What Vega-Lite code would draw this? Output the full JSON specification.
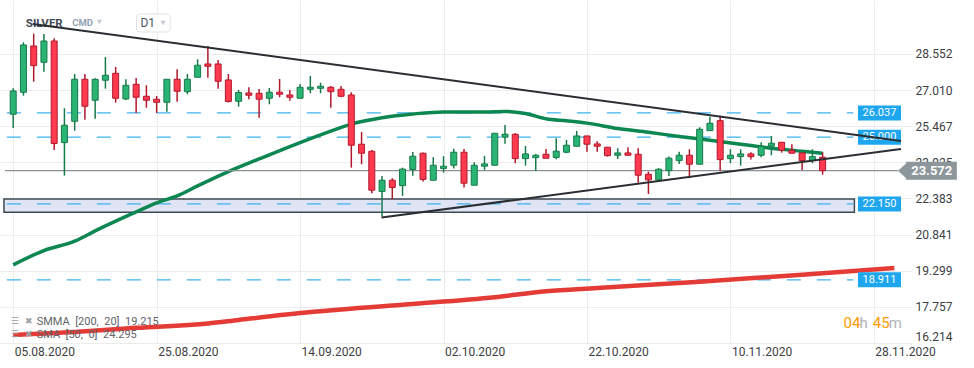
{
 "$schema": "https://vega.github.io/schema/vega-lite/v6.json",
 "width": 906, "height": 343,
 "autosize": {"type": "none"},
 "padding": {"left": 0, "top": 0, "right": 68, "bottom": 25},
 "background": "#ffffff",
 "config": {"view": {"stroke": null}, "font": "Roboto", "text": {"font": "Roboto"}},
 "datasets": {
  "candles": [
   {"i":0,"o":25.979,"h":27.088,"l":25.394,"c":26.973},
   {"i":1,"o":26.918,"h":29.051,"l":26.773,"c":28.936},
   {"i":2,"o":28.893,"h":29.418,"l":27.370,"c":28.053},
   {"i":3,"o":28.198,"h":29.405,"l":27.797,"c":29.107},
   {"i":4,"o":29.107,"h":29.222,"l":24.456,"c":24.733},
   {"i":5,"o":24.767,"h":26.235,"l":23.359,"c":25.510},
   {"i":6,"o":25.680,"h":27.698,"l":25.279,"c":27.472},
   {"i":7,"o":27.472,"h":27.698,"l":25.748,"c":26.320},
   {"i":8,"o":26.576,"h":27.515,"l":25.791,"c":27.472},
   {"i":9,"o":27.430,"h":28.424,"l":27.071,"c":27.643},
   {"i":10,"o":27.728,"h":27.997,"l":26.474,"c":26.662},
   {"i":11,"o":26.632,"h":27.472,"l":26.589,"c":27.216},
   {"i":12,"o":27.259,"h":27.528,"l":26.034,"c":26.704},
   {"i":13,"o":26.747,"h":27.216,"l":26.260,"c":26.576},
   {"i":14,"o":26.619,"h":26.760,"l":26.034,"c":26.491},
   {"i":15,"o":26.491,"h":27.472,"l":26.090,"c":27.472},
   {"i":16,"o":27.472,"h":27.899,"l":26.517,"c":26.960},
   {"i":17,"o":26.943,"h":27.698,"l":26.832,"c":27.472},
   {"i":18,"o":27.558,"h":28.326,"l":27.558,"c":28.070},
   {"i":19,"o":28.125,"h":28.893,"l":27.541,"c":28.027},
   {"i":20,"o":28.125,"h":28.296,"l":27.071,"c":27.387},
   {"i":21,"o":27.443,"h":27.698,"l":26.482,"c":26.525},
   {"i":22,"o":26.534,"h":27.016,"l":26.303,"c":26.909},
   {"i":23,"o":26.888,"h":27.131,"l":26.619,"c":26.790},
   {"i":24,"o":26.875,"h":27.058,"l":25.834,"c":26.619},
   {"i":25,"o":26.662,"h":27.101,"l":26.406,"c":26.918},
   {"i":26,"o":26.918,"h":27.485,"l":26.704,"c":26.832},
   {"i":27,"o":26.802,"h":27.016,"l":26.559,"c":26.704},
   {"i":28,"o":26.662,"h":27.272,"l":26.662,"c":27.131},
   {"i":29,"o":27.046,"h":27.613,"l":26.875,"c":27.131},
   {"i":30,"o":27.088,"h":27.327,"l":26.875,"c":27.174},
   {"i":31,"o":27.131,"h":27.186,"l":26.260,"c":26.943},
   {"i":32,"o":27.046,"h":27.186,"l":26.704,"c":26.747},
   {"i":33,"o":26.802,"h":26.918,"l":23.700,"c":24.656},
   {"i":34,"o":24.699,"h":25.224,"l":23.845,"c":24.315},
   {"i":35,"o":24.400,"h":24.456,"l":22.608,"c":22.736},
   {"i":36,"o":22.685,"h":23.346,"l":21.618,"c":23.163},
   {"i":37,"o":23.163,"h":23.248,"l":22.365,"c":22.855},
   {"i":38,"o":22.932,"h":23.700,"l":22.493,"c":23.636},
   {"i":39,"o":23.623,"h":24.370,"l":23.355,"c":24.187},
   {"i":40,"o":24.315,"h":24.349,"l":23.103,"c":23.197},
   {"i":41,"o":23.163,"h":24.148,"l":23.163,"c":23.803},
   {"i":42,"o":23.666,"h":24.187,"l":23.495,"c":23.760},
   {"i":43,"o":23.803,"h":24.511,"l":23.658,"c":24.357},
   {"i":44,"o":24.357,"h":24.498,"l":22.847,"c":23.035},
   {"i":45,"o":22.949,"h":23.931,"l":22.949,"c":23.803},
   {"i":46,"o":23.760,"h":24.200,"l":23.602,"c":23.858},
   {"i":47,"o":23.803,"h":25.168,"l":23.803,"c":25.168},
   {"i":48,"o":25.000,"h":25.522,"l":24.724,"c":25.125},
   {"i":49,"o":25.125,"h":25.168,"l":23.888,"c":24.084},
   {"i":50,"o":24.084,"h":24.626,"l":23.786,"c":24.285},
   {"i":51,"o":24.127,"h":24.285,"l":23.560,"c":24.229},
   {"i":52,"o":24.272,"h":24.498,"l":24.101,"c":24.101},
   {"i":53,"o":24.136,"h":24.955,"l":24.063,"c":24.404},
   {"i":54,"o":24.357,"h":24.882,"l":24.315,"c":24.656},
   {"i":55,"o":24.613,"h":25.266,"l":24.613,"c":25.053},
   {"i":56,"o":25.053,"h":25.053,"l":24.383,"c":24.699},
   {"i":57,"o":24.711,"h":24.827,"l":24.383,"c":24.613},
   {"i":58,"o":24.571,"h":24.571,"l":24.170,"c":24.212},
   {"i":59,"o":24.229,"h":24.528,"l":24.071,"c":24.328},
   {"i":60,"o":24.328,"h":24.571,"l":24.229,"c":24.229},
   {"i":61,"o":24.272,"h":24.528,"l":23.060,"c":23.376},
   {"i":62,"o":23.419,"h":23.530,"l":22.578,"c":23.175},
   {"i":63,"o":23.175,"h":23.675,"l":23.120,"c":23.632},
   {"i":64,"o":23.572,"h":24.170,"l":23.346,"c":24.101},
   {"i":65,"o":24.000,"h":24.383,"l":23.858,"c":24.229},
   {"i":66,"o":24.229,"h":24.485,"l":23.248,"c":23.845},
   {"i":67,"o":23.845,"h":25.424,"l":23.845,"c":25.339},
   {"i":68,"o":25.279,"h":25.876,"l":25.279,"c":25.595},
   {"i":69,"o":25.706,"h":25.919,"l":23.572,"c":24.042},
   {"i":70,"o":24.084,"h":24.485,"l":23.888,"c":24.229},
   {"i":71,"o":24.170,"h":24.485,"l":23.786,"c":24.285},
   {"i":72,"o":24.285,"h":24.357,"l":24.042,"c":24.170},
   {"i":73,"o":24.229,"h":24.784,"l":24.144,"c":24.613},
   {"i":74,"o":24.613,"h":25.053,"l":24.229,"c":24.741},
   {"i":75,"o":24.784,"h":24.784,"l":24.340,"c":24.443},
   {"i":76,"o":24.443,"h":24.699,"l":24.315,"c":24.315},
   {"i":77,"o":24.328,"h":24.328,"l":23.602,"c":24.000},
   {"i":78,"o":24.000,"h":24.485,"l":23.888,"c":24.170},
   {"i":79,"o":24.144,"h":24.357,"l":23.402,"c":23.572}
  ],
  "sma": [
   {"i":0,"v":19.55},{"i":3,"v":20.16},{"i":6,"v":20.56},{"i":8,"v":21.0},{"i":12,"v":21.81},
   {"i":14,"v":22.2},{"i":16,"v":22.49},{"i":18,"v":22.92},{"i":21,"v":23.53},{"i":24,"v":24.07},
   {"i":28,"v":24.77},{"i":31,"v":25.26},{"i":33,"v":25.56},{"i":36,"v":25.83},{"i":39,"v":25.99},
   {"i":42,"v":26.08},{"i":46,"v":26.08},{"i":48,"v":26.1},{"i":50,"v":26.01},{"i":52,"v":25.79},
   {"i":54,"v":25.7},{"i":56,"v":25.6},{"i":59,"v":25.37},{"i":62,"v":25.21},{"i":65,"v":25.03},
   {"i":68,"v":24.87},{"i":71,"v":24.7},{"i":74,"v":24.53},{"i":77,"v":24.4},{"i":79,"v":24.31}
  ],
  "smma": [
   {"i":0,"v":16.56},{"i":6,"v":16.68},{"i":12,"v":16.86},{"i":19,"v":17.05},{"i":22,"v":17.2},
   {"i":28,"v":17.49},{"i":38,"v":17.85},{"i":47,"v":18.17},{"i":52,"v":18.42},{"i":57,"v":18.56},
   {"i":67,"v":18.83},{"i":77,"v":19.13},{"i":82,"v":19.29},{"i":86,"v":19.42}
  ],
  "levels": [
   {"level":26.037,"label":"26.037"},{"level":25.0,"label":"25.000"},
   {"level":22.15,"label":"22.150"},{"level":18.911,"label":"18.911"}
  ],
  "band": [{"lo":21.8,"hi":22.365}],
  "trend": [
   {"line":"down","i":1.9,"v":29.832},{"line":"down","i":86.65,"v":24.84},
   {"line":"up","i":35.95,"v":21.567},{"line":"up","i":86.65,"v":24.498}
  ],
  "price": [{"last":23.572,"label":"23.572"}]
 },
 "layer": [
  {"data":{"name":"candles"},
   "mark":{"type":"rule","strokeWidth":1.5,"opacity":0},
   "encoding":{
    "x":{"field":"i","type":"quantitative","scale":{"domain":[-0.8,86.65],"nice":false,"zero":false},
     "axis":{"values":[0,14,28,42,56,70,84],
      "labelExpr":"['05.08.2020','25.08.2020','14.09.2020','02.10.2020','22.10.2020','10.11.2020','28.11.2020'][round(datum.value/14)]",
      "title":null,"grid":true,"gridColor":"#ececec","domain":false,"ticks":false,"labelAlign":"left",
      "labelFontSize":12,"labelColor":"#3c4043","labelFont":"Roboto","labelPadding":3,"labelOffset":1,
      "labelFlush":false,"labelOverlap":false,"labelBound":false}},
    "y":{"field":"l","type":"quantitative","scale":{"domain":[16.214,30.856],"nice":false,"zero":false},
     "axis":{"orient":"right","values":[16.214,17.757,19.299,20.841,22.383,23.925,25.467,27.01,28.552],
      "format":".3f","title":null,"grid":true,"gridColor":"#ececec","domain":false,"ticks":true,"tickSize":6,
      "tickColor":"#ececec","labelPadding":3,"labelFontSize":12,"labelColor":"#3c4043","labelFont":"Roboto",
      "labelBaseline":{"condition":{"test":"datum.value < 16.3","value":"bottom"},"value":"middle"},
      "labelFlush":false,"labelOverlap":false,"labelBound":false}},
    "y2":{"field":"h"}}},
  {"data":{"name":"band"},
   "mark":{"type":"rect","fill":"#e1e4f4","stroke":"#3d4752","strokeWidth":1.5},
   "encoding":{
    "x":{"datum":-0.9,"type":"quantitative"},
    "x2":{"datum":82.1},
    "y":{"field":"hi","type":"quantitative"},
    "y2":{"field":"lo"}}},
  {"data":{"name":"levels"},
   "mark":{"type":"rule","stroke":"#3fb3ee","strokeWidth":1.3,"strokeDash":[14,16]},
   "encoding":{
    "x":{"datum":-0.62,"type":"quantitative"},
    "x2":{"datum":82.0},
    "y":{"field":"level","type":"quantitative"}}},
  {"data":{"name":"sma"},
   "mark":{"type":"line","stroke":"#0c8752","strokeWidth":3.5,"interpolate":"monotone"},
   "encoding":{
    "x":{"field":"i","type":"quantitative"},
    "y":{"field":"v","type":"quantitative"}}},
  {"data":{"name":"smma"},
   "mark":{"type":"line","stroke":"#e53b36","strokeWidth":4.5,"interpolate":"monotone"},
   "encoding":{
    "x":{"field":"i","type":"quantitative"},
    "y":{"field":"v","type":"quantitative"}}},
  {"data":{"name":"price"},
   "mark":{"type":"rule","stroke":"#8c9196","strokeWidth":1.2},
   "encoding":{
    "x":{"datum":-0.8,"type":"quantitative"},
    "x2":{"datum":86.36},
    "y":{"field":"last","type":"quantitative"}}},
  {"data":{"name":"candles"},
   "mark":{"type":"rule","strokeWidth":1.5},
   "encoding":{
    "x":{"field":"i","type":"quantitative"},
    "y":{"field":"l","type":"quantitative"},
    "y2":{"field":"h"},
    "color":{"condition":{"test":"datum.c >= datum.o","value":"#177a4b"},"value":"#b3182d"}}},
  {"data":{"name":"candles"},
   "mark":{"type":"bar","width":6,"strokeWidth":1},
   "encoding":{
    "x":{"field":"i","type":"quantitative"},
    "y":{"field":"o","type":"quantitative"},
    "y2":{"field":"c"},
    "fill":{"condition":{"test":"datum.c >= datum.o","value":"#29b474"},"value":"#ff3a4f"},
    "stroke":{"condition":{"test":"datum.c >= datum.o","value":"#177a4b"},"value":"#b3182d"}}},
  {"data":{"name":"levels"},
   "mark":{"type":"rect","fill":"#1ea6ef","yOffset":-7.5,"y2Offset":7.5},
   "encoding":{
    "x":{"datum":82.45,"type":"quantitative"},
    "x2":{"datum":86.65},
    "y":{"field":"level","type":"quantitative"},
    "y2":{"field":"level"}}},
  {"data":{"name":"levels"},
   "mark":{"type":"text","fill":"#ffffff","fontSize":11,"align":"center","baseline":"middle","font":"Roboto"},
   "encoding":{
    "x":{"datum":84.55,"type":"quantitative"},
    "y":{"field":"level","type":"quantitative"},
    "text":{"field":"label"}}},
  {"data":{"name":"price"},
   "mark":{"type":"text","text":"SILVER","fontSize":11.5,"fontWeight":"bold","fill":"#3f4b55","align":"left","baseline":"alphabetic","font":"Roboto"},
   "encoding":{
    "x":{"datum":1.23,"type":"quantitative"},
    "y":{"datum":29.704,"type":"quantitative"}}},
  {"data":{"name":"price"},
   "mark":{"type":"text","text":"CMD","fontSize":9.5,"fontWeight":"bold","fill":"#8fa1b3","align":"left","baseline":"alphabetic","font":"Roboto"},
   "encoding":{
    "x":{"datum":5.76,"type":"quantitative"},
    "y":{"datum":29.747,"type":"quantitative"}}},
  {"data":{"name":"price"},
   "mark":{"type":"point","shape":"triangle-down","size":28,"filled":true,"fill":"#c5ccd3","strokeWidth":0,"opacity":1},
   "encoding":{
    "x":{"datum":8.42,"type":"quantitative"},
    "y":{"datum":29.92,"type":"quantitative"}}},
  {"data":{"name":"price"},
   "mark":{"type":"rect","fill":"#ffffff","stroke":"#dfe3e7","strokeWidth":1,"cornerRadius":3},
   "encoding":{
    "x":{"datum":12.03,"type":"quantitative"},
    "x2":{"datum":15.32},
    "y":{"datum":30.259,"type":"quantitative"},
    "y2":{"datum":29.491}}},
  {"data":{"name":"price"},
   "mark":{"type":"text","text":"D1","fontSize":12,"fill":"#4a5661","align":"left","baseline":"alphabetic","font":"Roboto"},
   "encoding":{
    "x":{"datum":12.42,"type":"quantitative"},
    "y":{"datum":29.704,"type":"quantitative"}}},
  {"data":{"name":"price"},
   "mark":{"type":"point","shape":"triangle-down","size":28,"filled":true,"fill":"#c5ccd3","strokeWidth":0,"opacity":1},
   "encoding":{
    "x":{"datum":14.64,"type":"quantitative"},
    "y":{"datum":29.875,"type":"quantitative"}}},
  {"data":{"name":"trend"},
   "mark":{"type":"line","stroke":"#2a2e33","strokeWidth":2},
   "encoding":{
    "x":{"field":"i","type":"quantitative"},
    "y":{"field":"v","type":"quantitative"},
    "detail":{"field":"line"}}},
  {"data":{"name":"price"},
   "mark":{"type":"rect","fill":"#8c969b","yOffset":-9,"y2Offset":9},
   "encoding":{
    "x":{"datum":87.15,"type":"quantitative"},
    "x2":{"datum":92.1},
    "y":{"field":"last","type":"quantitative"},
    "y2":{"field":"last"}}},
  {"data":{"name":"price"},
   "mark":{"type":"point","shape":"M1.1,-1L0,0L1.1,1Z","size":324,"filled":true,"fill":"#8c969b","strokeWidth":0,"opacity":1},
   "encoding":{
    "x":{"datum":86.36,"type":"quantitative"},
    "y":{"field":"last","type":"quantitative"}}},
  {"data":{"name":"price"},
   "mark":{"type":"text","fill":"#ffffff","fontSize":13,"fontWeight":"bold","align":"center","baseline":"middle","font":"Roboto"},
   "encoding":{
    "x":{"datum":89.65,"type":"quantitative"},
    "y":{"field":"last","type":"quantitative"},
    "text":{"field":"label"}}},
  {"data":{"name":"price"},
   "mark":{"type":"text","text":"☰","fontSize":9,"fill":"#9aa0a6","align":"center","baseline":"middle"},
   "encoding":{
    "x":{"datum":0.16,"type":"quantitative"},
    "y":{"datum":17.16,"type":"quantitative"}}},
  {"data":{"name":"price"},
   "mark":{"type":"text","text":"✖","fontSize":9,"fill":"#9aa0a6","align":"center","baseline":"middle"},
   "encoding":{
    "x":{"datum":1.5,"type":"quantitative"},
    "y":{"datum":17.16,"type":"quantitative"}}},
  {"data":{"name":"price"},
   "mark":{"type":"text","text":"☰","fontSize":9,"fill":"#9aa0a6","align":"center","baseline":"middle"},
   "encoding":{
    "x":{"datum":0.16,"type":"quantitative"},
    "y":{"datum":16.6,"type":"quantitative"}}},
  {"data":{"name":"price"},
   "mark":{"type":"text","text":"✖","fontSize":9,"fill":"#9aa0a6","align":"center","baseline":"middle"},
   "encoding":{
    "x":{"datum":1.5,"type":"quantitative"},
    "y":{"datum":16.6,"type":"quantitative"}}},
  {"data":{"name":"price"},
   "mark":{"type":"text","text":"SMMA\u00a0 [200,\u00a0 20]\u00a0 19.215","fontSize":11,"fill":"#5f6368","align":"left","baseline":"alphabetic","font":"Roboto"},
   "encoding":{
    "x":{"datum":2.29,"type":"quantitative"},
    "y":{"datum":16.988,"type":"quantitative"}}},
  {"data":{"name":"price"},
   "mark":{"type":"text","text":"SMA\u00a0 [50,\u00a0 0]\u00a0 24.295","fontSize":11,"fill":"#5f6368","align":"left","baseline":"alphabetic","font":"Roboto"},
   "encoding":{
    "x":{"datum":2.29,"type":"quantitative"},
    "y":{"datum":16.434,"type":"quantitative"}}},
  {"data":{"name":"price"},
   "mark":{"type":"text","text":"04","fontSize":15,"fill":"#ff9a00","align":"left","baseline":"alphabetic","font":"Roboto"},
   "encoding":{
    "x":{"datum":81.05,"type":"quantitative"},
    "y":{"datum":16.86,"type":"quantitative"}}},
  {"data":{"name":"price"},
   "mark":{"type":"text","text":"h","fontSize":15,"fill":"#b0b5ba","align":"left","baseline":"alphabetic","font":"Roboto"},
   "encoding":{
    "x":{"datum":82.6,"type":"quantitative"},
    "y":{"datum":16.86,"type":"quantitative"}}},
  {"data":{"name":"price"},
   "mark":{"type":"text","text":"45","fontSize":15,"fill":"#ff9a00","align":"left","baseline":"alphabetic","font":"Roboto"},
   "encoding":{
    "x":{"datum":83.9,"type":"quantitative"},
    "y":{"datum":16.86,"type":"quantitative"}}},
  {"data":{"name":"price"},
   "mark":{"type":"text","text":"m","fontSize":15,"fill":"#b0b5ba","align":"left","baseline":"alphabetic","font":"Roboto"},
   "encoding":{
    "x":{"datum":85.45,"type":"quantitative"},
    "y":{"datum":16.86,"type":"quantitative"}}}
 ]
}
